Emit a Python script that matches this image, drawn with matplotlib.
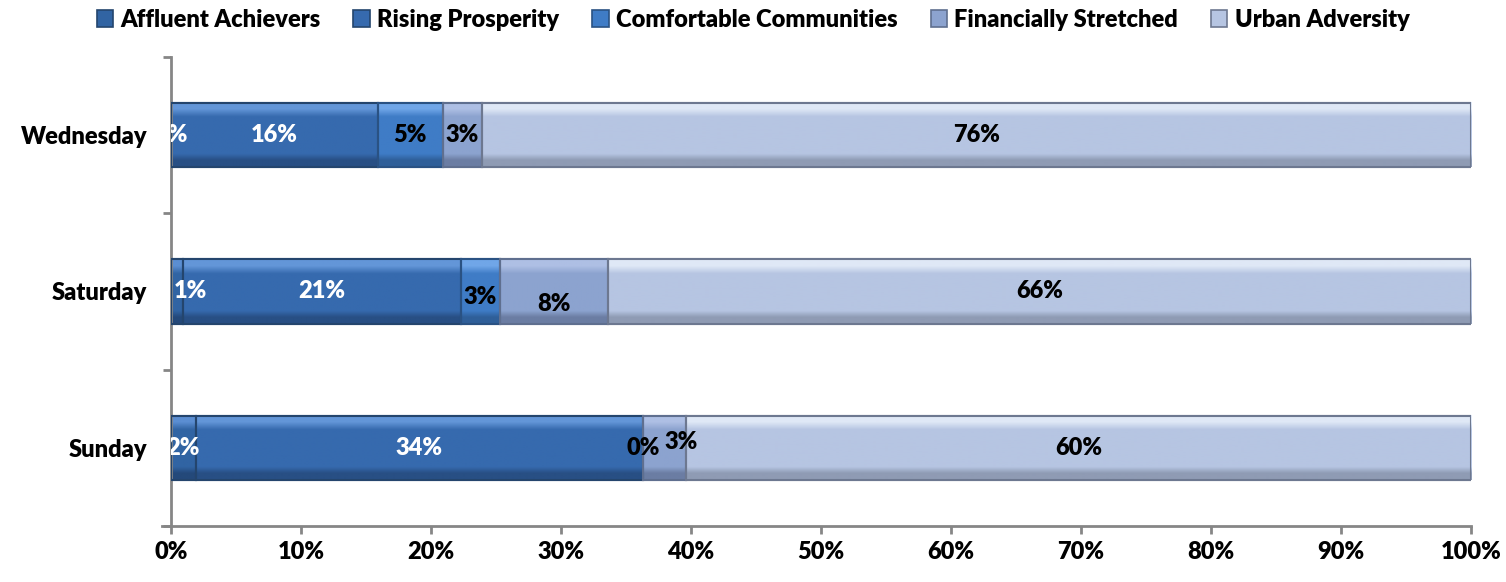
import matplotlib
matplotlib.use("Agg")
import matplotlib.pyplot as plt
from matplotlib.patches import Patch
from matplotlib.colors import to_rgb
from matplotlib.ticker import FixedLocator, PercentFormatter
import numpy as np

plt.rcParams['font.family'] = ['Lato', 'DejaVu Sans']
plt.rcParams['font.weight'] = 'heavy'

days = ["Wednesday", "Saturday", "Sunday"]
segments = ["Affluent Achievers", "Rising Prosperity", "Comfortable Communities",
            "Financially Stretched", "Urban Adversity"]

affluent_achievers = [0.0, 0.9, 1.9]
rising_prosperity = [15.9, 21.4, 34.4]
comfortable_communities = [5.0, 3.0, 0.0]
financially_stretched = [3.0, 8.3, 3.3]
urban_adversity = [76.1, 66.4, 60.4]

series = [affluent_achievers, rising_prosperity, comfortable_communities,
          financially_stretched, urban_adversity]

base_colors = ["#3164a3", "#366aae", "#3f7cc6", "#8ca3cf", "#b6c5e2"]
top_colors = ["#5b8ed2", "#6396d8", "#70a6e8", "#aebfe4", "#dfe8f6"]
shade_colors = ["#24497a", "#284f84", "#2f5f99", "#6b7da3", "#8f9bb4"]
edge_colors = ["#24456d", "#24456d", "#2a5283", "#5f6f8f", "#6d7890"]
text_colors = ["white", "white", "black", "black", "black"]

# nudges (points, +y up) for labels that would otherwise collide
label_nudge = {(1, 2): (0, -4), (1, 3): (0, -9), (2, 3): (12, 4), (1, 0): (10, 0)}

FS = 17


def bevel_gradient(top, base, shade, n=64):
    """Vertical colour ramp: bright rim, body, darker lower lip."""
    t = np.linspace(0, 1, n)
    stops = [(0.0, top), (0.10, top), (0.22, base), (0.80, base), (0.90, shade), (1.0, shade)]
    pos = np.array([s[0] for s in stops])
    cols = np.array([to_rgb(s[1]) for s in stops])
    rgb = np.stack([np.interp(t, pos, cols[:, k]) for k in range(3)], axis=-1)
    return rgb[:, None, :]


fig = plt.figure(figsize=(15.06, 5.82), dpi=100)
ax = fig.add_axes([171 / 1506, 1 - 526 / 582, 1300 / 1506, 469 / 582])

y = np.arange(len(days))
h = 0.41
left = np.zeros(len(days))
for i, vals in enumerate(series):
    vals = np.array(vals)
    grad = bevel_gradient(top_colors[i], base_colors[i], shade_colors[i])
    bars = ax.barh(y, vals, left=left, height=h, color=base_colors[i],
                   edgecolor=edge_colors[i], linewidth=1.5, zorder=2)
    for bar in bars:
        x0, y0 = bar.get_x(), bar.get_y()
        w, hh = bar.get_width(), bar.get_height()
        if w <= 0:
            continue
        ax.imshow(grad, extent=(x0, x0 + w, y0 + hh, y0), aspect="auto",
                  interpolation="bilinear", zorder=2.5)
        ax.barh(y0 + hh / 2, w, left=x0, height=hh, facecolor="none",
                edgecolor=edge_colors[i], linewidth=1.5, zorder=3)
    for j, v in enumerate(vals):
        dx, dy = label_nudge.get((j, i), (0, 0))
        ax.annotate(f"{v:.0f}%", (left[j] + v / 2, y[j]), xytext=(dx, dy),
                    textcoords="offset points", ha="center", va="center",
                    color=text_colors[i], fontsize=FS, fontweight="heavy",
                    zorder=5, annotation_clip=False, clip_on=True)
    left += vals

ax.set_xlim(0, 100)
ax.set_ylim(len(days) - 0.5, -0.5)
ax.set_aspect("auto")
ax.set_yticks(y)
ax.set_yticklabels(days)
ax.yaxis.set_minor_locator(FixedLocator(np.arange(-0.5, len(days), 1.0)))
ax.set_xticks(np.arange(0, 101, 10))
ax.xaxis.set_major_formatter(PercentFormatter(decimals=0))

axis_gray = "#868686"
for side in ("top", "right"):
    ax.spines[side].set_visible(False)
for side in ("left", "bottom"):
    ax.spines[side].set_color(axis_gray)
    ax.spines[side].set_linewidth(2)
ax.spines["bottom"].set_bounds(-0.7, 100)

ax.tick_params(axis="y", which="major", length=0, pad=17, labelsize=FS)
ax.tick_params(axis="y", which="minor", length=6, width=2, color=axis_gray)
ax.tick_params(axis="x", which="major", length=6, width=2, color=axis_gray,
               pad=5, labelsize=FS)
for lab in ax.get_xticklabels() + ax.get_yticklabels():
    lab.set_fontweight("heavy")

handles = [Patch(facecolor=base_colors[i], edgecolor=edge_colors[i], linewidth=1.2)
           for i in range(len(segments))]
fig.legend(handles, segments, loc="center", bbox_to_anchor=(0.5, 1 - 20 / 582),
           ncol=5, frameon=False, handlelength=0.7, handleheight=0.7,
           handletextpad=0.3, columnspacing=1.4,
           prop={"weight": "heavy", "size": FS})

fig.savefig("out.png", dpi=100)
